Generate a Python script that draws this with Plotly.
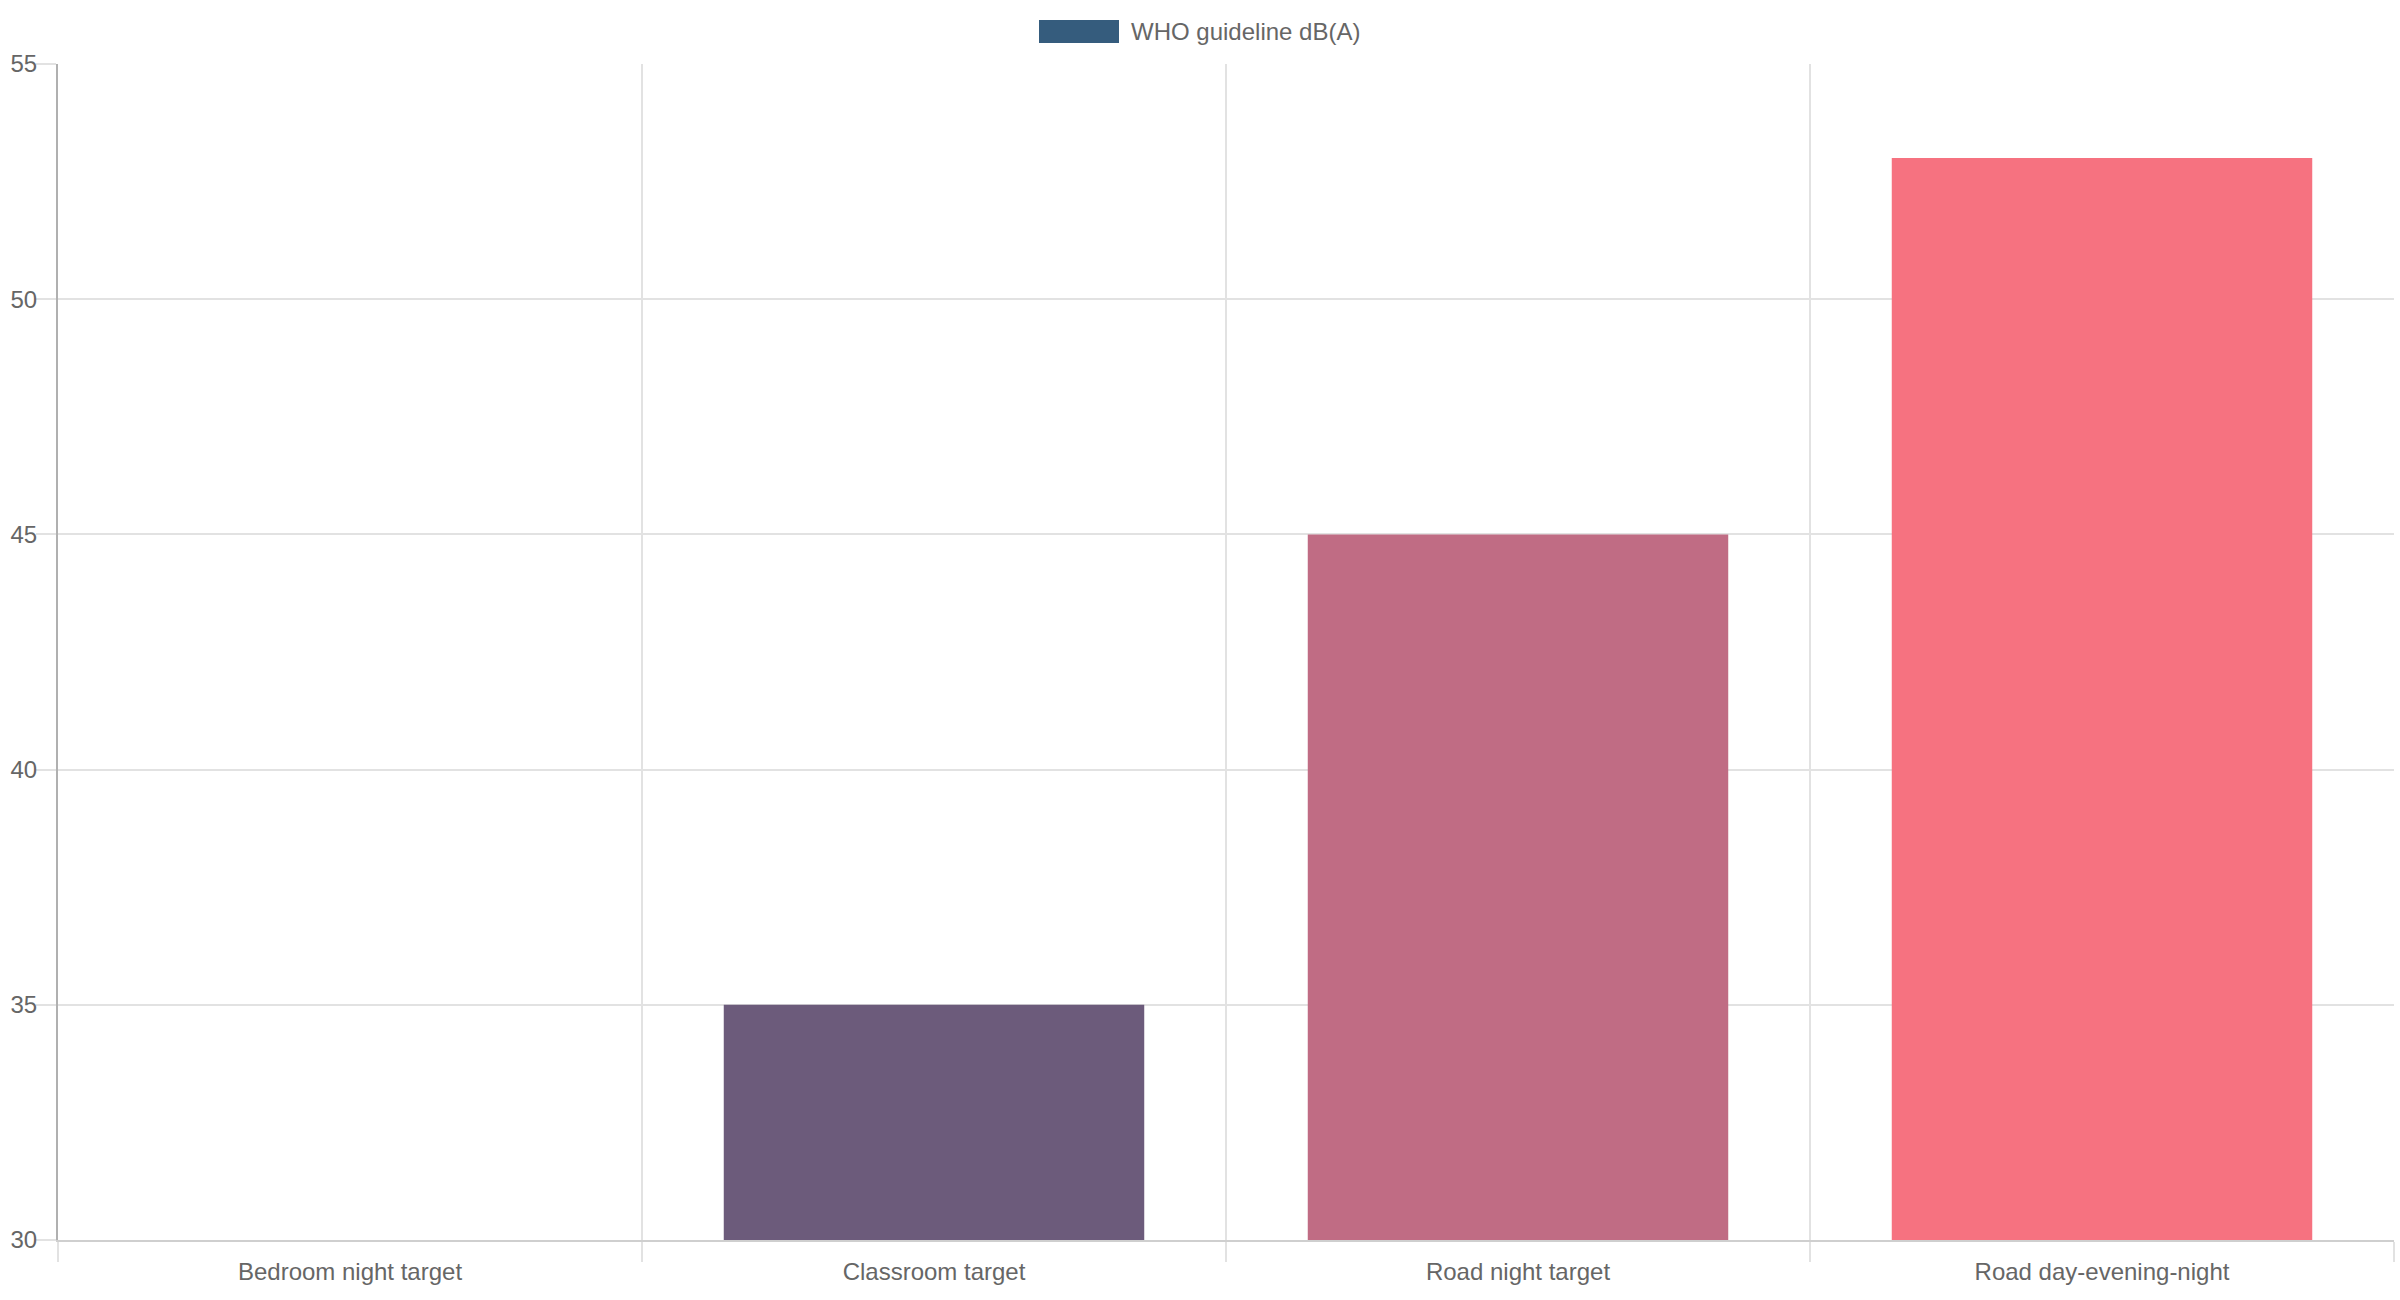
import plotly.graph_objects as go

categories = ["Bedroom night target", "Classroom target", "Road night target", "Road day-evening-night"]
values = [30, 35, 45, 53]
colors = ["#355C7D", "#6C5B7B", "#C06C84", "#F67280"]
series_name = "WHO guideline dB(A)"
y_ticks = [30, 35, 40, 45, 50, 55]

FONT = "Liberation Sans, Arial, sans-serif"
GRID = "#e2e2e2"

fig = go.Figure()
fig.add_trace(go.Bar(
    x=categories, y=values, name=series_name,
    marker=dict(color=colors, line=dict(width=0)),
    width=0.72, showlegend=False,
))

fig.update_layout(
    width=2400, height=1300,
    margin=dict(l=58, r=6, t=64, b=60),
    paper_bgcolor="white", plot_bgcolor="white",
    font=dict(family=FONT, size=24, color="#666666"),
    bargap=0.28,
    xaxis=dict(
        tickson="boundaries", ticks="outside", ticklen=20, tickcolor=GRID, tickwidth=2,
        showgrid=True, gridcolor=GRID, gridwidth=2,
        showline=True, linecolor="#cfcfcf", linewidth=2,
        tickfont=dict(size=24, color="#666666"),
        ticklabelstandoff=9, automargin=False,
    ),
    yaxis=dict(
        range=[30, 55], tickvals=y_ticks, ticks="outside", ticklen=20, tickcolor=GRID, tickwidth=2,
        showgrid=True, gridcolor=GRID, gridwidth=2, zeroline=False,
        showline=True, linecolor="#b0b0b0", linewidth=2,
        tickfont=dict(size=24, color="#666666"),
        ticklabelstandoff=-6, automargin=False,
    ),
)

# Chart.js-style legend box
fig.add_shape(type="rect", xref="paper", yref="paper",
              x0=(1039 - 58) / 2336, x1=(1119 - 58) / 2336,
              y0=1 + (64 - 43) / 1176, y1=1 + (64 - 20) / 1176,
              fillcolor=colors[0], line=dict(width=0))
fig.add_annotation(xref="paper", yref="paper", x=(1129 - 58) / 2336, y=1 + (64 - 31.5) / 1176,
                   text=series_name, showarrow=False, xanchor="left", yanchor="middle",
                   font=dict(family=FONT, size=24, color="#666666"))

fig.write_html("out.html")
